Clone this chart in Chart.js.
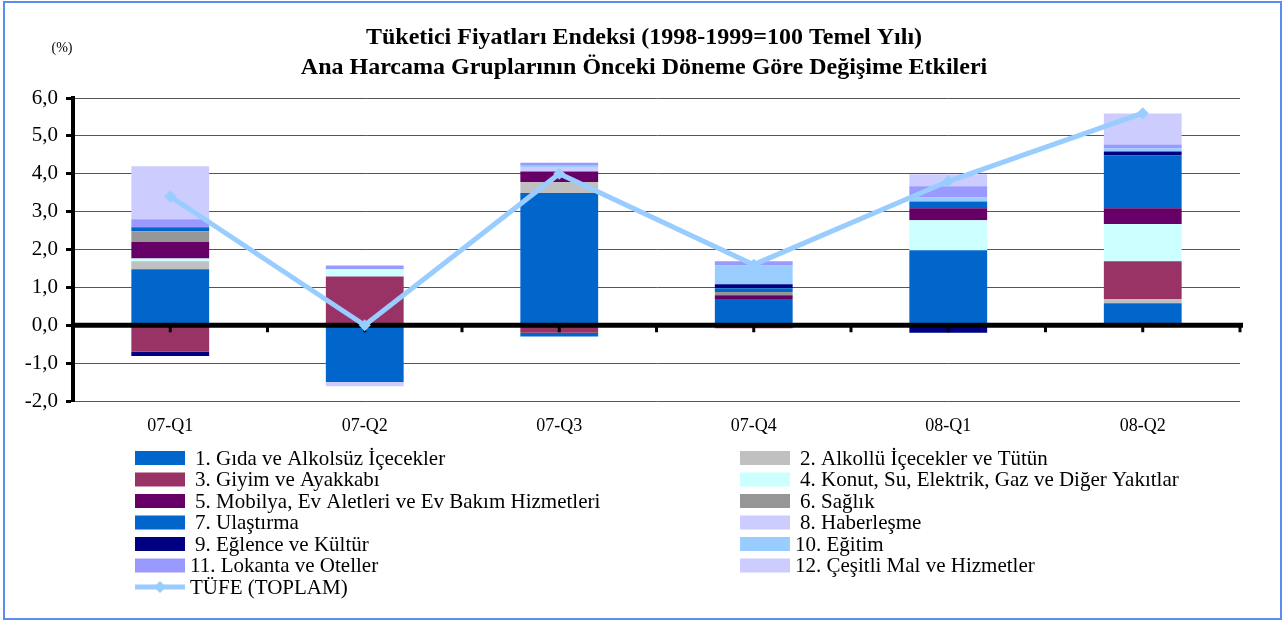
<!DOCTYPE html>
<html>
<head>
<meta charset="utf-8">
<script src="https://cdn.jsdelivr.net/npm/chart.js@4"></script>
<style>
  body { margin: 0; background: #fff; }
  #wrap { position: relative; width: 1286px; height: 622px; }
  #frame { position: absolute; left: 3px; top: 1px; width: 1275px; height: 615px;
           border: 2px solid #5b8cf0; pointer-events: none; }
</style>
</head>
<body>
<div id="wrap">
  <canvas id="cpiChart" width="1286" height="622"></canvas>
  <div id="frame"></div>
</div>
<script>
// Quarters
const quarters = ['07-Q1', '07-Q2', '07-Q3', '07-Q4', '08-Q1', '08-Q2'];

// Contributions by main expenditure group (percentage points)
const gida      = [1.48, -1.50, 3.49, 0.69, 1.98, 0.58];
const alkollu   = [0.21, 0, 0.29, 0, 0, 0.11];
const giyim     = [-0.70, 1.29, -0.20, -0.08, -0.04, 1.00];
const konut     = [0.07, 0.19, 0, 0, 0.79, 0.98];
const mobilya   = [0.44, 0, 0.28, 0.10, 0.32, 0.42];
const saglik    = [0.28, 0, 0, 0.09, 0, 0];
const ulastirma = [0.11, 0, -0.10, 0.10, 0.18, 1.39];
const haberlesme = [0, 0, 0.10, 0, 0, 0];
const eglence   = [-0.11, 0, 0, 0.10, -0.16, 0.11];
const egitim    = [0, 0, 0.05, 0.50, 0.11, 0.08];
const lokanta   = [0.21, 0.10, 0.08, 0.11, 0.29, 0.10];
const cesitli   = [1.40, -0.11, 0, 0, 0.32, 0.82];

// Total CPI change
const tufe = [3.4, 0.0, 4.0, 1.6, 3.8, 5.6];

const groups = [
  { label: '1. Gıda ve Alkolsüz İçecekler', data: gida, color: '#0066CC' },
  { label: '2. Alkollü İçecekler ve Tütün', data: alkollu, color: '#C0C0C0' },
  { label: '3. Giyim ve Ayakkabı', data: giyim, color: '#993366' },
  { label: '4. Konut, Su, Elektrik, Gaz ve Diğer Yakıtlar', data: konut, color: '#CCFFFF' },
  { label: '5. Mobilya, Ev Aletleri ve Ev Bakım Hizmetleri', data: mobilya, color: '#660066' },
  { label: '6. Sağlık', data: saglik, color: '#969696' },
  { label: '7. Ulaştırma', data: ulastirma, color: '#0066CC' },
  { label: '8. Haberleşme', data: haberlesme, color: '#CCCCFF' },
  { label: '9. Eğlence ve Kültür', data: eglence, color: '#000080' },
  { label: '10. Eğitim', data: egitim, color: '#99CCFF' },
  { label: '11. Lokanta ve Oteller', data: lokanta, color: '#9999FF' },
  { label: '12. Çeşitli Mal ve Hizmetler', data: cesitli, color: '#CCCCFF' }
];

const serif = '"Liberation Serif", "Times New Roman", serif';

// Title, (%) note, zero axis and the two-column legend
const decorPlugin = {
  id: 'decor',
  beforeDraw(chart) {
    const ctx = chart.ctx;
    ctx.save();
    ctx.fillStyle = '#000';
    ctx.textAlign = 'center';
    ctx.textBaseline = 'middle';
    ctx.font = 'bold 24px ' + serif;
    ctx.fillText('Tüketici Fiyatları Endeksi (1998-1999=100 Temel Yılı)', 644, 38);
    ctx.fillText('Ana Harcama Gruplarının Önceki Döneme Göre Değişime Etkileri', 644, 68);
    ctx.font = '14px ' + serif;
    ctx.fillText('(%)', 62, 48);
    ctx.restore();
  },
  beforeDatasetDraw(chart, args) {
    if (chart.data.datasets[args.index].type !== 'line') return;
    // zero axis goes over the bars but under the TÜFE line
    const ctx = chart.ctx;
    const area = chart.chartArea;
    const x = chart.scales.x;
    const y0 = chart.scales.y.getPixelForValue(0);
    ctx.save();
    ctx.strokeStyle = '#000';
    ctx.lineWidth = 5;
    ctx.beginPath();
    ctx.moveTo(area.left, y0);
    ctx.lineTo(area.right + 3, y0);
    ctx.stroke();
    ctx.lineWidth = 3;
    const step = x.getPixelForValue(1) - x.getPixelForValue(0);
    for (let i = 0; i < quarters.length; i++) {
      const cx = x.getPixelForValue(i);
      [cx, cx + step / 2].forEach(px => {
        ctx.beginPath();
        ctx.moveTo(px, y0);
        ctx.lineTo(px, y0 + 7);
        ctx.stroke();
      });
    }
    ctx.restore();
  },
  afterDraw(chart) {
    const ctx = chart.ctx;
    const colX = [135, 740];
    const rowY = 458, rowH = 21.5;
    ctx.save();
    ctx.font = '21px ' + serif;
    ctx.textBaseline = 'middle';
    ctx.textAlign = 'left';
    groups.forEach((g, i) => {
      const cx = colX[i % 2];
      const cy = rowY + Math.floor(i / 2) * rowH;
      ctx.fillStyle = g.color;
      ctx.fillRect(cx, cy - 7, 50, 14);
      ctx.fillStyle = '#000';
      const tx = g.label.indexOf('.') === 1 ? cx + 60 : cx + 55;
      ctx.fillText(g.label, tx, cy + 1);
    });
    // TÜFE entry
    const ly = rowY + 6 * rowH;
    ctx.strokeStyle = '#99CCFF';
    ctx.lineWidth = 5;
    ctx.beginPath();
    ctx.moveTo(colX[0], ly);
    ctx.lineTo(colX[0] + 50, ly);
    ctx.stroke();
    ctx.fillStyle = '#99CCFF';
    ctx.beginPath();
    ctx.moveTo(colX[0] + 25, ly - 6);
    ctx.lineTo(colX[0] + 31, ly);
    ctx.lineTo(colX[0] + 25, ly + 6);
    ctx.lineTo(colX[0] + 19, ly);
    ctx.closePath();
    ctx.fill();
    ctx.fillStyle = '#000';
    ctx.fillText('TÜFE (TOPLAM)', colX[0] + 55, ly + 1);
    ctx.restore();
  }
};

const datasets = [{
  type: 'line',
  label: 'TÜFE (TOPLAM)',
  data: tufe,
  borderColor: '#99CCFF',
  backgroundColor: '#99CCFF',
  borderWidth: 5,
  pointStyle: 'rectRot',
  pointRadius: 6,
  pointBorderWidth: 0,
  pointBackgroundColor: '#99CCFF',
  stack: 'tufe',
  order: 0
}];
groups.forEach(g => {
  datasets.push({
    type: 'bar',
    label: g.label,
    data: g.data,
    backgroundColor: g.color,
    borderWidth: 0,
    stack: 'groups',
    order: 1
  });
});

new Chart(document.getElementById('cpiChart'), {
  type: 'bar',
  data: { labels: quarters, datasets: datasets },
  plugins: [decorPlugin],
  options: {
    responsive: false,
    devicePixelRatio: 1,
    animation: false,
    layout: { padding: { left: 10, right: 46, top: 98, bottom: 181 } },
    datasets: { bar: { categoryPercentage: 1, barPercentage: 0.4 } },
    plugins: {
      legend: { display: false },
      title: { display: false },
      tooltip: { enabled: false }
    },
    scales: {
      x: {
        stacked: true,
        grid: { display: false, drawTicks: false },
        border: { display: false },
        ticks: { color: '#000', font: { family: serif, size: 18 }, padding: 14 },
        afterFit(scale) { scale.height = 40; }
      },
      y: {
        stacked: true,
        min: -2,
        max: 6,
        ticks: {
          stepSize: 1,
          color: '#000',
          padding: 8,
          font: { family: serif, size: 21 },
          callback: v => v.toFixed(1).replace('.', ',')
        },
        grid: {
          color: '#555',
          lineWidth: 1,
          tickLength: 7,
          tickColor: '#000',
          tickWidth: 3
        },
        border: { display: true, color: '#000', width: 4 },
        afterFit(scale) { scale.width = 63; }
      }
    }
  }
});
</script>
</body>
</html>
